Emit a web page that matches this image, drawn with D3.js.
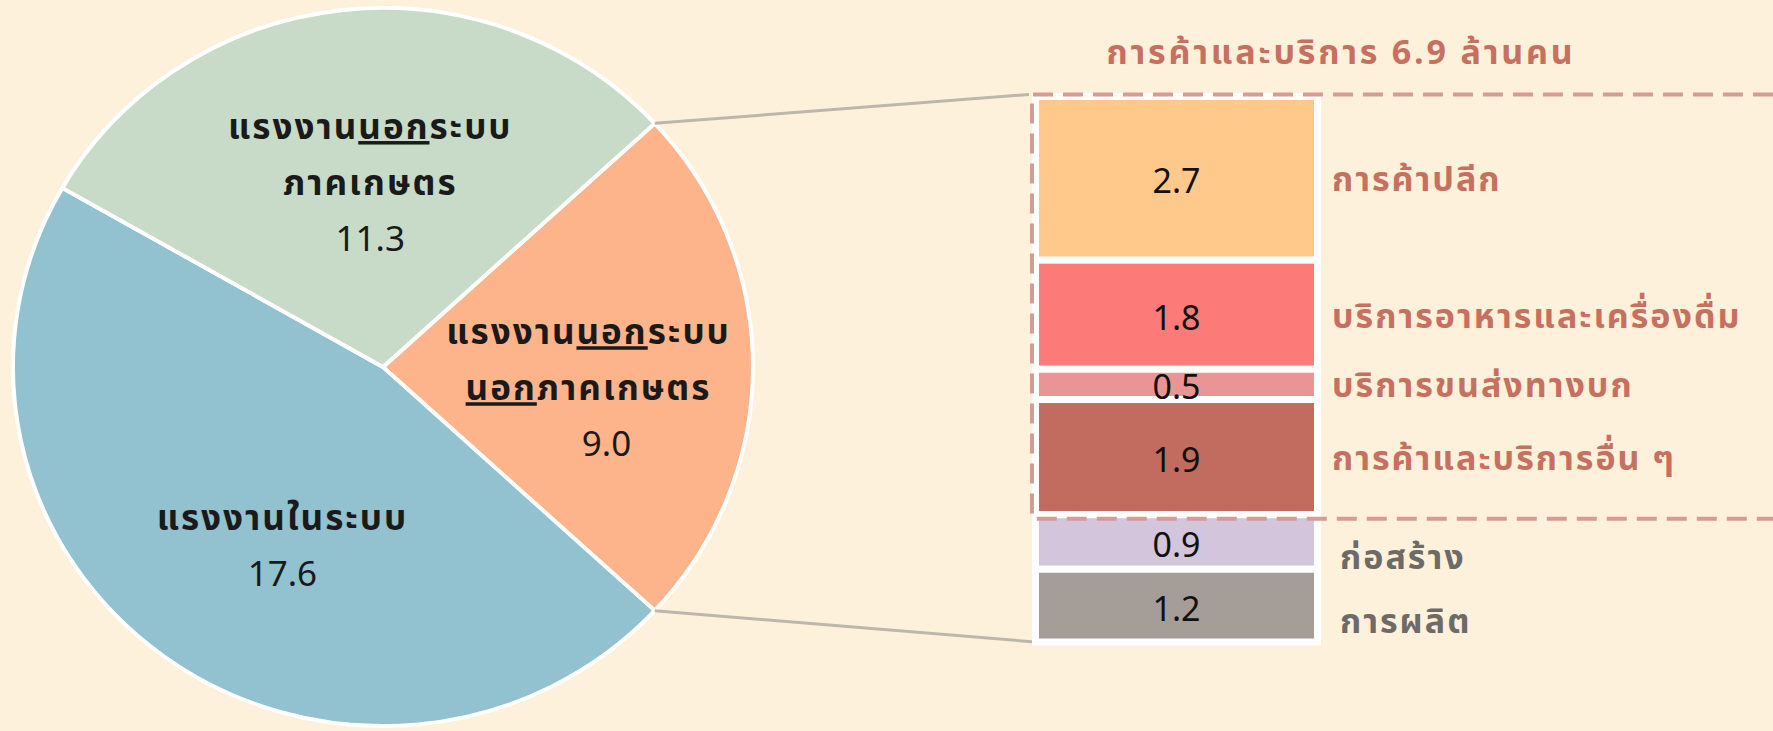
<!DOCTYPE html>
<html>
<head>
<meta charset="utf-8">
<script src="https://cdn.jsdelivr.net/npm/d3@7/dist/d3.min.js"></script>
<style>
  body { margin: 0; background: #fef1dc; }
  svg { display: block; }
  text { font-family: Tahoma, "Leelawadee UI", "Noto Sans Thai", "Noto Sans", sans-serif; }
  .thai { font-weight: bold; letter-spacing: 2px; }
  .title { letter-spacing: 2.8px; }
</style>
</head>
<body>
<div id="chart"></div>
<script>
(function(){

// pie: workers by type (million persons)
var pieNames = ["นอกระบบนอกภาคเกษตร", "ในระบบ", "นอกระบบภาคเกษตร"];
var pieValues = [9.0, 17.6, 11.3];
// label lines, each line a list of [text, underlined]
var pieLabelLines = [
    [[["แรงงาน", 0], ["นอก", 1], ["ระบบ", 0]], [["นอก", 1], ["ภาคเกษตร", 0]]],
    [[["แรงงานในระบบ", 0]]],
    [[["แรงงาน", 0], ["นอก", 1], ["ระบบ", 0]], [["ภาคเกษตร", 0]]]
];

// breakdown of the non-agricultural informal workers
var barNames = ["การค้าปลีก", "บริการอาหารและเครื่องดื่ม", "บริการขนส่งทางบก", "การค้าและบริการอื่น ๆ", "ก่อสร้าง", "การผลิต"];
var barValues = [2.7, 1.8, 0.5, 1.9, 0.9, 1.2];
var barGroups = ["trade", "trade", "trade", "trade", "other", "other"];

var width = 1773, height = 731;

var svg = d3.select("#chart")
    .append("svg")
    .attr("width", width)
    .attr("height", height);

//PIE
var cx = 383, cy = 367, rx = 370, ry = 359;
var pieColor = d3.scaleOrdinal()
    .domain(pieNames)
    .range(["#feb48a", "#92c1d0", "#c7dbc8"]);

var total = d3.sum(pieValues);
var start = Math.PI / 2 - Math.PI * pieValues[0] / total;
var arcs = d3.pie()
    .sort(null)
    .startAngle(start)
    .endAngle(start + 2 * Math.PI)(pieValues);

var arc = d3.arc().innerRadius(0).outerRadius(rx);

var pieG = svg.append("g")
    .attr("transform", "translate(" + cx + "," + cy + ") scale(1," + (ry / rx) + ")");

pieG.selectAll(".slice")
    .data(arcs)
    .enter()
    .append("path")
    .attr("class", "slice")
    .attr("d", arc)
    .attr("fill", function(d, i){ return pieColor(pieNames[i]); })
    .attr("stroke", "#fff")
    .attr("stroke-width", 4);

//label nudges so text sits where the original put it
var nudge = [[2, 21], [20, 20], [10, 12]];
var numShift = [18, 0, 0];
var labelArc = d3.arc().innerRadius(0).outerRadius(rx * 1.1);

arcs.forEach(function(d, i){
    var c = labelArc.centroid(d);
    var lx = cx + c[0] + nudge[i][0];
    var ly = cy + c[1] * ry / rx + nudge[i][1];
    var lines = pieLabelLines[i].concat([[[d3.format(".1f")(pieValues[i]), 0]]]);
    var lh = 56;
    var t = svg.append("text")
        .attr("text-anchor", "middle")
        .attr("font-size", 35)
        .attr("fill", "#1a1a1a");
    lines.forEach(function(line, j){
        var isNum = j === lines.length - 1;
        var row = t.append("tspan")
            .attr("class", isNum ? null : "thai")
            .attr("x", lx + (isNum ? numShift[i] : 0))
            .attr("y", ly + (j - (lines.length - 1) / 2) * lh)
            .attr("dy", "0.35em");
        line.forEach(function(seg, k){
            row.append("tspan")
                .attr("text-decoration", seg[1] ? "underline" : null)
                .text(seg[0]);
        });
    });
});

//connector lines from the orange slice to the bar
var barX = 1039, barW = 275;
var y = d3.scaleLinear()
    .domain([0, d3.sum(barValues)])
    .range([96.5, 642]);

var aTop = arcs[0].startAngle, aBot = arcs[0].endAngle;
svg.append("line")
    .attr("x1", cx + rx * Math.sin(aTop)).attr("y1", cy - ry * Math.cos(aTop))
    .attr("x2", barX - 10).attr("y2", y(0) - 2)
    .attr("stroke", "#bdb6aa").attr("stroke-width", 3);
svg.append("line")
    .attr("x1", cx + rx * Math.sin(aBot)).attr("y1", cy - ry * Math.cos(aBot))
    .attr("x2", barX - 4).attr("y2", y(d3.sum(barValues)))
    .attr("stroke", "#bdb6aa").attr("stroke-width", 3);

//STACKED BAR
var barColor = d3.scaleOrdinal()
    .domain(barNames)
    .range(["#fec98a", "#fc7b79", "#ea9595", "#c16c5e", "#d3c6dc", "#a59d97"]);

var cum = 0;
var stack = barValues.map(function(v, i){
    var s = { name: barNames[i], value: v, group: barGroups[i], y0: cum, y1: cum + v };
    cum += v;
    return s;
});

svg.selectAll(".seg")
    .data(stack)
    .enter()
    .append("rect")
    .attr("class", "seg")
    .attr("x", barX - 3.5)
    .attr("width", barW + 7)
    .attr("y", function(d){ return y(d.y0); })
    .attr("height", function(d){ return y(d.y1) - y(d.y0); })
    .attr("fill", function(d){ return barColor(d.name); })
    .attr("stroke", "#fff")
    .attr("stroke-width", 7);

svg.selectAll(".val")
    .data(stack)
    .enter()
    .append("text")
    .attr("class", "val")
    .attr("x", barX + barW / 2)
    .attr("y", function(d){ return (y(d.y0) + y(d.y1)) / 2 + 3; })
    .attr("dy", "0.35em")
    .attr("text-anchor", "middle")
    .attr("font-size", 34)
    .attr("fill", "#111")
    .text(function(d){ return d3.format(".1f")(d.value); });

svg.selectAll(".name")
    .data(stack)
    .enter()
    .append("text")
    .attr("class", "name thai")
    .attr("x", function(d){ return barX + barW + (d.group === "trade" ? 18 : 26); })
    .attr("y", function(d){ return (y(d.y0) + y(d.y1)) / 2 + (d.group === "trade" ? 1 : 15); })
    .attr("dy", "0.35em")
    .attr("font-size", 34)
    .attr("fill", function(d){ return d.group === "trade" ? "#c6705f" : "#6e6a66"; })
    .text(function(d){ return d.name; });

//dashed box round the trade & services part
var tradeTotal = d3.sum(stack.filter(function(d){ return d.group === "trade"; }), function(d){ return d.value; });
svg.append("path")
    .attr("d", "M" + width + "," + (y(0) - 2) +
        "H" + (barX - 7) +
        "V" + (y(tradeTotal) + 4) +
        "H" + width)
    .attr("fill", "none")
    .attr("stroke", "#d59b94")
    .attr("stroke-width", 4)
    .attr("stroke-dasharray", "20,10");

svg.append("text")
    .attr("class", "thai title")
    .attr("x", 1341)
    .attr("y", 52)
    .attr("dy", "0.35em")
    .attr("text-anchor", "middle")
    .attr("font-size", 34)
    .attr("fill", "#c6705f")
    .text("การค้าและบริการ " + d3.format(".1f")(tradeTotal) + " ล้านคน");

})();
</script>
</body>
</html>
